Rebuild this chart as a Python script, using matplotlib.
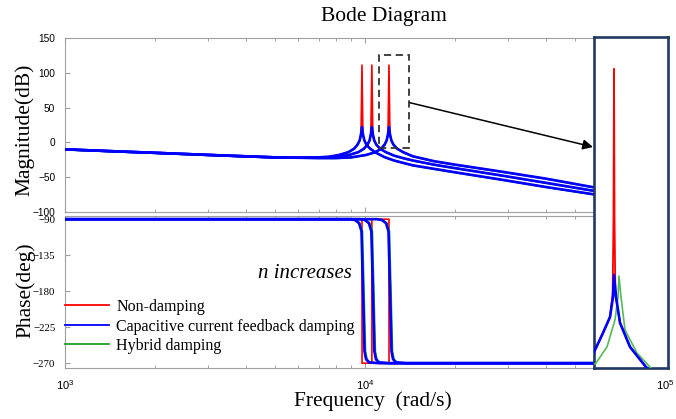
import matplotlib
matplotlib.use('Agg')
import matplotlib.pyplot as plt
from matplotlib.patches import Rectangle
from matplotlib.ticker import NullFormatter
from matplotlib.font_manager import FontProperties

plt.rcParams['mathtext.fontset'] = 'custom'
plt.rcParams['mathtext.rm'] = 'Liberation Sans'
plt.rcParams['mathtext.it'] = 'Liberation Sans:italic'

# ---------------- data ----------------
LABELS = ['Non-damping', 'Capacitive current feedback damping', 'Hybrid damping']
COLORS = ['#ff0000', '#0000ff', '#22a02a']

# magnitude, resonance group A (n smallest)
MAG_F_A = [1000, 1500, 2000, 3000, 4000, 5000, 6000, 7000, 7600, 8200, 8800, 9200, 9450, 9600, 9700,
           9770, 9840, 9950, 10100, 10400, 10900, 11600, 12500, 14450, 17000, 20000, 28000, 40000, 58700, 100000]
MAG_BLUE_A = [-10, -13, -15, -18, -20, -21.5, -22, -21.5, -20.5, -18, -14, -9, -3, 3, 12,
              22, 12, 3, -3, -9, -15, -21, -26, -33, -38, -43, -53, -64, -75, -90]
MAG_RED_A = [-10, -13, -15, -18, -20, -21.5, -22, -21.5, -20.5, -18, -14, -9, -3, 3, 12,
             111, 12, 3, -3, -9, -15, -21, -26, -33, -38, -43, -53, -64, -75, -90]
MAG_GREEN_A = [-10.5, -13.5, -15.5, -18.5, -20.5, -22, -22.5, -22, -21, -18.5, -14.5, -9.5, -3.5, 2.5, 11,
               20, 11, 2.5, -3.5, -9.5, -15.5, -21.5, -26.5, -33.5, -38.5, -43.5, -53.5, -64.5, -75.5, -90.5]

# magnitude, resonance group B
MAG_F_B = [1000, 1500, 2000, 3000, 4000, 5000, 6000, 7000, 7600, 8200, 8850, 9500, 9920, 10200, 10360, 10460,
           10540, 10620, 10730, 10900, 11220, 11750, 12500, 13500, 14450, 17000, 20000, 28000, 40000, 58700, 100000]
MAG_BLUE_B = [-10, -13, -15, -18, -20, -21.5, -22, -22, -21.5, -20.5, -18, -14, -9, -3, 3, 12,
              22, 12, 3, -3, -9, -14, -19, -23, -26, -32, -37, -47, -58, -70, -86]
MAG_RED_B = [-10, -13, -15, -18, -20, -21.5, -22, -22, -21.5, -20.5, -18, -14, -9, -3, 3, 12,
             111, 12, 3, -3, -9, -14, -19, -23, -26, -32, -37, -47, -58, -70, -86]
MAG_GREEN_B = [-10.5, -13.5, -15.5, -18.5, -20.5, -22, -22.5, -22.5, -22, -21, -18.5, -14.5, -9.5, -3.5, 2.5, 11,
               20, 11, 2.5, -3.5, -9.5, -14.5, -19.5, -23.5, -26.5, -32.5, -37.5, -47.5, -58.5, -70.5, -86.5]

# magnitude, resonance group C (n largest)
MAG_F_C = [1000, 1500, 2000, 3000, 4000, 5000, 6000, 7000, 8000, 9000, 10090, 10830, 11320, 11630, 11810, 11930,
           12020, 12110, 12240, 12430, 12800, 13400, 14450, 17000, 20000, 28000, 40000, 58700, 100000]
MAG_BLUE_C = [-10, -13, -15, -18, -20, -21.5, -22, -22.5, -22.5, -21.5, -18, -14, -9, -3, 3, 12,
              22, 12, 3, -3, -9, -14, -20, -27, -32, -41.5, -52, -65, -82]
MAG_RED_C = [-10, -13, -15, -18, -20, -21.5, -22, -22.5, -22.5, -21.5, -18, -14, -9, -3, 3, 12,
             111, 12, 3, -3, -9, -14, -20, -27, -32, -41.5, -52, -65, -82]
MAG_GREEN_C = [-10.5, -13.5, -15.5, -18.5, -20.5, -22, -22.5, -23, -23, -22, -18.5, -14.5, -9.5, -3.5, 2.5, 11,
               20, 11, 2.5, -3.5, -9.5, -14.5, -20.5, -27.5, -32.5, -42, -52.5, -65.5, -82.5]

# phase (deg)
PH_DAMPED = [-90, -90, -91, -95, -105, -180, -255, -265, -269, -270, -270]
PH_F_BLUE_A = [1000, 8900, 9260, 9550, 9735, 9850, 9960, 10080, 10310, 11200, 100000]
PH_F_GREEN_A = [1000, 8970, 9330, 9620, 9810, 9925, 10040, 10160, 10390, 11290, 100000]
PH_F_BLUE_B = [1000, 9600, 9990, 10300, 10500, 10630, 10745, 10875, 11120, 12080, 100000]
PH_F_GREEN_B = [1000, 9680, 10065, 10380, 10585, 10705, 10830, 10960, 11210, 12180, 100000]
PH_F_BLUE_C = [1000, 10950, 11390, 11750, 11975, 12120, 12255, 12400, 12685, 13780, 100000]
PH_F_GREEN_C = [1000, 11035, 11480, 11835, 12070, 12210, 12350, 12500, 12780, 13890, 100000]
PH_UNDAMPED = [-90, -90, -270, -270]
PH_F_RED_A = [1000, 9770, 9775, 100000]
PH_F_RED_B = [1000, 10540, 10545, 100000]
PH_F_RED_C = [1000, 12020, 12025, 100000]

# zoomed view of the last resonance peak
IN_F_BLUE = [11300, 11628, 11884, 11993, 12030, 12103, 12249, 12614, 13197, 13708]
IN_BLUE = [-3.5, 4.3, 10.8, 19, 28, 19, 8.4, -1.4, -9.6, -15]
IN_F_RED = [11300, 11628, 11884, 11980, 12010, 12030, 12050, 12080, 12249, 12614, 13197, 13708]
IN_RED = [-3.5, 4.3, 10.8, 20, 50, 112, 50, 20, 8.4, -1.4, -9.6, -15]
IN_F_GREEN = [11300, 11373, 11774, 12066, 12176, 12212, 12285, 12431, 12869, 13343, 13890]
IN_GREEN = [-8.4, -8, -1.4, 9.6, 19, 27.5, 19, 5.5, -3.9, -9.6, -15]

MAG_TICKS = [-100, -50, 0, 50, 100, 150]
PH_TICKS = [-270, -225, -180, -135, -90]
X_TICKS = [1e3, 1e4, 1e5]
X_TICKLABELS = [r'$10^{3}$', r'$10^{4}$', r'$10^{5}$']

# ---------------- figure ----------------
W, H = 676, 419
fig = plt.figure(figsize=(W / 100, H / 100), dpi=100)
fig.patch.set_facecolor('white')

def fx(px):
    return px / W

def fy(py):
    return 1 - py / H

ax1 = fig.add_axes([fx(65), fy(212), fx(665) - fx(65), fy(38) - fy(212)])
ax2 = fig.add_axes([fx(65), fy(368), fx(665) - fx(65), fy(216) - fy(368)])

SPINE = '#a0a0a0'
for ax in (ax1, ax2):
    ax.set_xscale('log')
    ax.set_xlim(1e3, 1e5)
    for s in ax.spines.values():
        s.set_color(SPINE)
        s.set_linewidth(0.8)
    ax.tick_params(which='both', direction='in', top=True, right=True, color=SPINE)
    ax.tick_params(which='major', length=3.5, width=0.8, pad=7)
    ax.tick_params(which='minor', length=2.2, width=0.7)
    ax.xaxis.set_minor_formatter(NullFormatter())

lw_b, lw_r, lw_g = 1.9, 1.2, 1.2

# magnitude
ax1.plot(MAG_F_A, MAG_RED_A, color=COLORS[0], lw=lw_r, zorder=2)
ax1.plot(MAG_F_B, MAG_RED_B, color=COLORS[0], lw=lw_r, zorder=2)
ax1.plot(MAG_F_C, MAG_RED_C, color=COLORS[0], lw=lw_r, zorder=2)
ax1.plot(MAG_F_A, MAG_GREEN_A, color=COLORS[2], lw=lw_g, zorder=3)
ax1.plot(MAG_F_B, MAG_GREEN_B, color=COLORS[2], lw=lw_g, zorder=3)
ax1.plot(MAG_F_C, MAG_GREEN_C, color=COLORS[2], lw=lw_g, zorder=3)
ax1.plot(MAG_F_A, MAG_BLUE_A, color=COLORS[1], lw=lw_b, zorder=4)
ax1.plot(MAG_F_B, MAG_BLUE_B, color=COLORS[1], lw=lw_b, zorder=4)
ax1.plot(MAG_F_C, MAG_BLUE_C, color=COLORS[1], lw=lw_b, zorder=4)
ax1.set_ylim(-100, 150)
ax1.set_yticks(MAG_TICKS)
ax1.set_xticks(X_TICKS)
ax1.set_xticklabels([])
for t in ax1.get_yticklabels():
    t.set_fontproperties(FontProperties(family='Liberation Sans', size=7.3))

# phase
ax2.plot(PH_F_RED_A, PH_UNDAMPED, color=COLORS[0], lw=lw_r, zorder=2)
ax2.plot(PH_F_RED_B, PH_UNDAMPED, color=COLORS[0], lw=lw_r, zorder=2)
ax2.plot(PH_F_RED_C, PH_UNDAMPED, color=COLORS[0], lw=lw_r, zorder=2)
ax2.plot(PH_F_GREEN_A, PH_DAMPED, color=COLORS[2], lw=lw_g, zorder=3)
ax2.plot(PH_F_GREEN_B, PH_DAMPED, color=COLORS[2], lw=lw_g, zorder=3)
ax2.plot(PH_F_GREEN_C, PH_DAMPED, color=COLORS[2], lw=lw_g, zorder=3)
ax2.plot(PH_F_BLUE_A, PH_DAMPED, color=COLORS[1], lw=lw_b, zorder=4)
ax2.plot(PH_F_BLUE_B, PH_DAMPED, color=COLORS[1], lw=lw_b, zorder=4)
ax2.plot(PH_F_BLUE_C, PH_DAMPED, color=COLORS[1], lw=lw_b, zorder=4)
ax2.set_ylim(-276, -86)
ax2.set_yticks(PH_TICKS)
ax2.set_xticks(X_TICKS)
ax2.set_xticklabels(X_TICKLABELS)
for t in ax2.get_yticklabels():
    t.set_fontproperties(FontProperties(family='Liberation Serif', size=7.8))
for t in ax2.get_xticklabels():
    t.set_fontsize(8)

# legend
handles = [plt.Line2D([], [], color=c, lw=1.3) for c in COLORS]
ax2.legend(handles, LABELS, loc='upper left', bbox_to_anchor=(fx(65), fy(299)),
           bbox_transform=fig.transFigure, frameon=False, borderpad=0, borderaxespad=0,
           handlelength=2.75, handletextpad=0.45, labelspacing=0.22,
           prop=FontProperties(family='Liberation Serif', size=11.5))

# texts
serif = 'Liberation Serif'
fig.text(fx(384), fy(17), 'Bode Diagram', family=serif, fontsize=15.5, ha='center', va='center')
fig.text(fx(373), fy(401), 'Frequency  (rad/s)', family=serif, fontsize=15.5, ha='center', va='center')
fig.text(fx(25), fy(130), 'Magnitude(dB)', family=serif, fontsize=15.5, ha='center', va='center', rotation=90)
fig.text(fx(26), fy(290), 'Phase(deg)', family=serif, fontsize=15.5, ha='center', va='center', rotation=90)
fig.text(fx(305), fy(273), 'n increases', family=serif, style='italic', fontsize=15, ha='center', va='center')

# dashed box around the last peak
ax1.add_patch(Rectangle((11140, -8), 14020 - 11140, 133, fill=False, ls=(0, (4, 2.5)),
                        lw=1.3, edgecolor='#333333', zorder=6, clip_on=False))

# inset
axin = fig.add_axes([fx(594), fy(368), fx(668) - fx(594), fy(37) - fy(368)])
axin.set_facecolor('white')
axin.plot(IN_F_RED, IN_RED, color=COLORS[0], lw=1.3, zorder=2)
axin.plot(IN_F_GREEN, IN_GREEN, color='#55bb55', lw=1.2, zorder=3)
axin.plot(IN_F_BLUE, IN_BLUE, color=COLORS[1], lw=1.9, zorder=4)
axin.set_xlim(11300, 14000)
axin.set_ylim(-10, 125)
axin.set_xticks([])
axin.set_yticks([])
for s in axin.spines.values():
    s.set_color('#1f3864')
    s.set_linewidth(1.9)

# arrow from dashed box to the inset
ax1.annotate('', xy=(fx(593), fy(147)), xycoords='figure fraction',
             xytext=(14125, 57), textcoords='data',
             arrowprops=dict(arrowstyle='-|>', color='black', lw=1.1, mutation_scale=15,
                             shrinkA=0, shrinkB=0), zorder=10)

fig.savefig('out.png', dpi=100, facecolor='white')
